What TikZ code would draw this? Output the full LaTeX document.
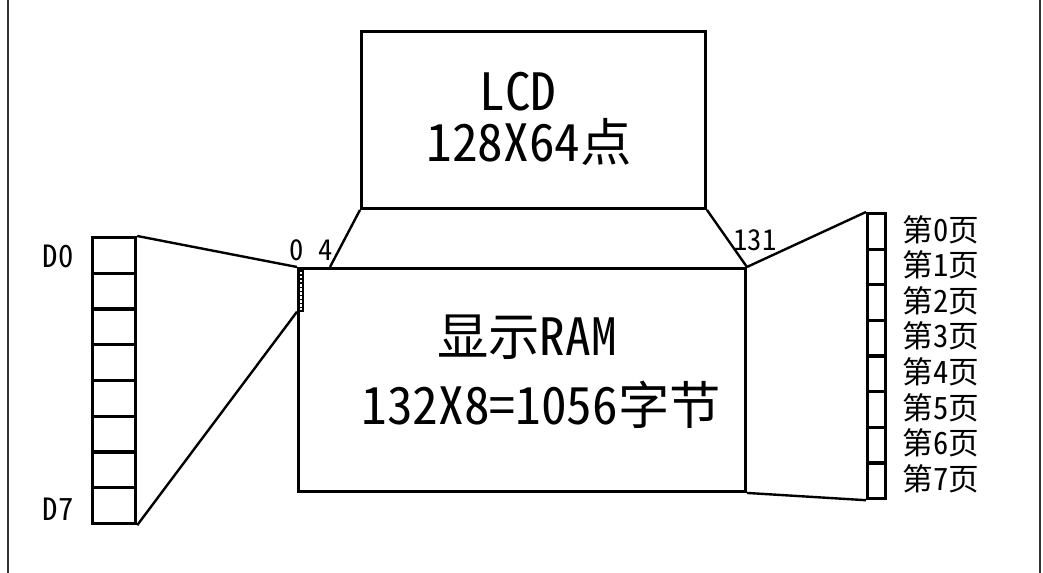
\documentclass[tikz,border=0pt]{standalone}
\usepackage{fontspec}
\setmainfont{Noto Sans CJK SC}[CharacterWidth=Half]
\usetikzlibrary{calc}
\begin{document}
\begin{tikzpicture}[x=0.75pt,y=-0.75pt,
  boxs/.style={draw, line width=2.2pt, inner sep=0pt, anchor=north west},
  cellL/.style={boxs, line width=2.4pt, minimum width=32.25pt, minimum height=26.8125pt},
  cellR/.style={boxs, line width=2.4pt, minimum width=13.5pt, minimum height=26.72pt},
  slope/.style={line width=1.8pt},
  big/.style={inner sep=0pt, font=\fontsize{38.5}{42}\selectfont},
  small/.style={inner sep=0pt, font=\fontsize{23}{26}\selectfont},
  tiny/.style={inner sep=0pt, font=\fontsize{21.5}{24}\selectfont},
  border/.style={line width=1.5pt, black!80}]
\useasboundingbox (0,0) rectangle (1043,573);
% side border lines
\draw[border] (8,0) -- (8,573);
\draw[border] (1040,0) -- (1040,573);
% main boxes
\node[boxs, minimum width=258pt, minimum height=132.75pt] (LCD) at (360,30) {};
\node[boxs, minimum width=335.25pt, minimum height=167.25pt] (RAM) at (297,267) {};
\coordinate (c4) at (330,267);
% ladder column
\node[boxs, line width=1.3pt, minimum width=3.75pt, minimum height=32.25pt] (lad) at (297,267) {};
\foreach \j in {1,...,10}
  \draw[line width=1.2pt] ($(lad.north west)!\j/11!(lad.south west)$) -- ($(lad.north east)!\j/11!(lad.south east)$);
% left cells
\foreach \i in {0,...,7}
  \node[cellL] (L\i) at (91,{236+35.75*\i}) {};
% right cells
\foreach \i in {0,...,7}
  \node[cellR] (R\i) at (866,{212+35.625*\i}) {};
% connectors
\draw[slope] (L0.north east) -- (RAM.north west);
\draw[slope] (L7.south east) -- (lad.south west);
\draw[slope] (LCD.south west) -- (c4);
\draw[slope] (LCD.south east) -- (RAM.north east);
\draw[slope] (RAM.north east) -- (R0.north west);
\draw[slope] (RAM.south east) -- (R7.south west);
% texts
\node[big] (t1) at (518,92) {LCD};
\node[big] (t2) at (529,142) {128X64点};
\node[big] (t3) at (527,337) {显示RAM};
\node[big] (t4) at (541,405) {132X8=1056字节};
\node[small] (d0) at (58,256) {D0};
\node[small] (d7) at (58,509) {D7};
\node[tiny] (n04) at (311,250) {0 4};
\node[tiny] (n131) at (755,240) {131};
\foreach \i in {0,...,7}
  \node[small, anchor=west] (p\i) at ($(R\i.east)+(15,-2)$) {第\i 页};
\end{tikzpicture}
\end{document}
